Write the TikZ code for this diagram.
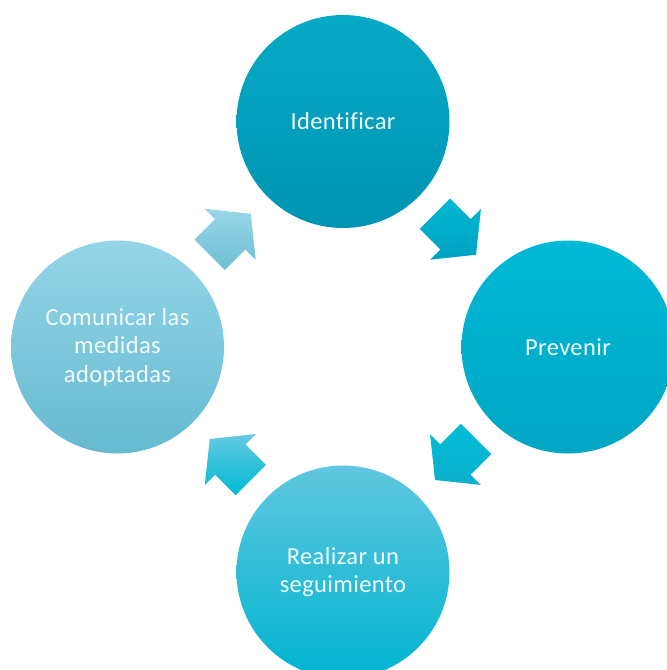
\documentclass[tikz,border=0pt]{standalone}
\usepackage{fontspec}
\setmainfont[Ligatures=NoCommon,LetterSpace=1.5]{Carlito}
\usetikzlibrary{calc}

\definecolor{idTop}{HTML}{06AAC6}
\definecolor{idBot}{HTML}{0094B2}
\definecolor{prTop}{HTML}{00B9D6}
\definecolor{prBot}{HTML}{00A6C4}
\definecolor{seTop}{HTML}{60C7DF}
\definecolor{seBot}{HTML}{00B4D0}
\definecolor{coTop}{HTML}{95D5E7}
\definecolor{coBot}{HTML}{66BAD0}
\definecolor{labelc}{HTML}{F0F9FB}
% arrow shades
\definecolor{aTop}{HTML}{00B8D4}
\definecolor{aBot}{HTML}{00A2C0}
\definecolor{bTop}{HTML}{00BDD8}
\definecolor{bBot}{HTML}{0CAFCB}
\definecolor{cTop}{HTML}{64C9E0}
\definecolor{cBot}{HTML}{00BAD4}
\definecolor{dTop}{HTML}{98D7E8}
\definecolor{dBot}{HTML}{6EBED2}

% block arrow centred on #1, pointing along angle #2, shaded #3 -> #4
\newcommand\cyclearrow[4]{%
  \shade[top color=#3,bottom color=#4]
    ($(#1)+({#2}:-29)+({#2+90}:21.5)$) --
    ($(#1)+({#2+90}:21.5)$) --
    ($(#1)+({#2+90}:36)$) --
    ($(#1)+({#2}:29)$) --
    ($(#1)+({#2-90}:36)$) --
    ($(#1)+({#2-90}:21.5)$) --
    ($(#1)+({#2}:-29)+({#2-90}:21.5)$) -- cycle;
}

\begin{document}
\begin{tikzpicture}[x=1pt,y=-1pt,
  stage/.style={circle, minimum size=213pt, inner sep=0pt, text=labelc,
    align=center, font=\fontsize{24.5}{28.5}\selectfont}]
  \useasboundingbox (0,0) rectangle (667,670);
  \clip (0,0) rectangle (667,670);

  % the four stages of the cycle
  \node[stage, top color=idTop, bottom color=idBot] (ident) at (343,121.5) {Identificar};
  \node[stage, top color=prTop, bottom color=prBot] (prev)  at (568,347)   {Prevenir};
  \node[stage, top color=seTop, bottom color=seBot] (segu)  at (343,572)   {Realizar un\\seguimiento};
  \node[stage, top color=coTop, bottom color=coBot] (comu)  at (117.5,347) {Comunicar las\\medidas\\adoptadas};

  % arrows half-way between neighbouring stages
  \coordinate (a1) at ($(ident.center)!0.5!(prev.center)$);
  \coordinate (a2) at ($(prev.center)!0.5!(segu.center)$);
  \coordinate (a3) at ($(segu.center)!0.5!(comu.center)$);
  \coordinate (a4) at ($(comu.center)!0.5!(ident.center)$);

  \cyclearrow{a1}{45}{aTop}{aBot}
  \cyclearrow{a2}{135}{bTop}{bBot}
  \cyclearrow{a3}{225}{cTop}{cBot}
  \cyclearrow{a4}{315}{dTop}{dBot}
\end{tikzpicture}
\end{document}
